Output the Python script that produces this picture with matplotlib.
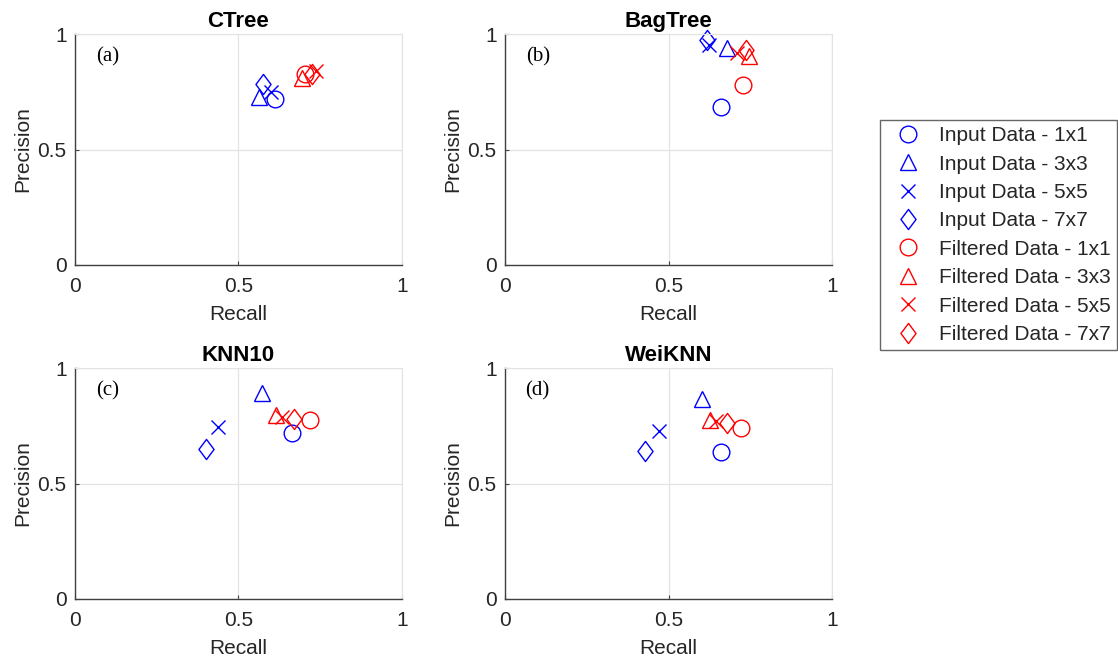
import numpy as np
import matplotlib.pyplot as plt
from matplotlib.path import Path

plt.rcParams['font.family'] = ['Liberation Sans', 'DejaVu Sans']

# Recall / precision per classifier, ordered 1x1, 3x3, 5x5, 7x7 windows
titles = ['CTree', 'BagTree', 'KNN10', 'WeiKNN']
panel_tags = ['(a)', '(b)', '(c)', '(d)']
windows = ['1x1', '3x3', '5x5', '7x7']

input_recall = [
    [0.612, 0.563, 0.598, 0.576],
    [0.660, 0.678, 0.624, 0.619],
    [0.663, 0.571, 0.438, 0.400],
    [0.660, 0.601, 0.472, 0.427],
]
input_precision = [
    [0.720, 0.727, 0.748, 0.783],
    [0.683, 0.940, 0.953, 0.974],
    [0.718, 0.891, 0.743, 0.651],
    [0.637, 0.865, 0.726, 0.642],
]
filtered_recall = [
    [0.703, 0.695, 0.737, 0.724],
    [0.729, 0.747, 0.708, 0.736],
    [0.719, 0.615, 0.632, 0.670],
    [0.721, 0.626, 0.644, 0.678],
]
filtered_precision = [
    [0.825, 0.810, 0.840, 0.826],
    [0.780, 0.904, 0.917, 0.931],
    [0.776, 0.797, 0.790, 0.779],
    [0.740, 0.776, 0.769, 0.762],
]

# tall diamond like the MATLAB one
diamond = Path([(0, 1), (0.75, 0), (0, -1), (-0.75, 0), (0, 1)],
               [Path.MOVETO, Path.LINETO, Path.LINETO, Path.LINETO, Path.CLOSEPOLY])
markers = ['o', '^', 'x', diamond]
msizes = [12, 12, 9.5, 14.5]

W, H = 1118, 663
fig = plt.figure(figsize=(W / 100, H / 100), dpi=100)

axes_px = [(75, 34), (505, 34), (75, 368), (505, 368)]
ax_w, ax_h = 327, 231

axis_col = '#404040'
handles = []
for k in range(4):
    x0, y0 = axes_px[k]
    ax = fig.add_axes([x0 / W, 1 - (y0 + ax_h) / H, ax_w / W, ax_h / H])
    ax.set_xlim(0, 1)
    ax.set_ylim(0, 1)
    ax.set_xticks([0, 0.5, 1])
    ax.set_yticks([0, 0.5, 1])
    ax.set_xticklabels(['0', '0.5', '1'])
    ax.set_yticklabels(['0', '0.5', '1'])
    ax.grid(True, color='#e3e3e3', lw=0.9)
    ax.set_axisbelow(True)
    for s in ['top', 'right']:
        ax.spines[s].set_color('#e3e3e3')
    for s in ['left', 'bottom']:
        ax.spines[s].set_color(axis_col)
        ax.spines[s].set_linewidth(1.0)
    ax.tick_params(direction='in', length=3, color=axis_col, labelcolor='#262626',
                   labelsize=15)
    ax.tick_params(axis='x', pad=9)
    ax.tick_params(axis='y', pad=6)
    ax.set_xlabel('Recall', fontsize=15, color='#262626', labelpad=6)
    ax.set_ylabel('Precision', fontsize=15, color='#262626', labelpad=4)
    ax.set_title(titles[k], fontsize=16, fontweight='bold', pad=5)
    ax.text(0.1, 0.9, panel_tags[k], family=['Liberation Serif', 'DejaVu Serif'],
            fontsize=15, ha='center', va='center')

    for i in range(4):
        h = ax.plot(input_recall[k][i], input_precision[k][i], ls='none',
                    marker=markers[i], ms=msizes[i], mfc='none', mec='blue',
                    mew=1.0, clip_on=False, label='Input Data - ' + windows[i])[0]
        if k == 0:
            handles.append(h)
    for i in range(4):
        h = ax.plot(filtered_recall[k][i], filtered_precision[k][i], ls='none',
                    marker=markers[i], ms=msizes[i], mfc='none', mec='red',
                    mew=1.0, clip_on=False, label='Filtered Data - ' + windows[i])[0]
        if k == 0:
            handles.append(h)

leg = fig.legend(handles=handles, loc='upper left',
                 bbox_to_anchor=(880 / W, 1 - 120 / H), borderaxespad=0,
                 fontsize=15, frameon=True, fancybox=False, labelspacing=0.45,
                 handlelength=2.05, handletextpad=0.47, borderpad=0.3)
leg.get_frame().set_edgecolor('#404040')
leg.get_frame().set_linewidth(1.0)
for t in leg.get_texts():
    t.set_color('#262626')

fig.savefig('out.png', dpi=100)
